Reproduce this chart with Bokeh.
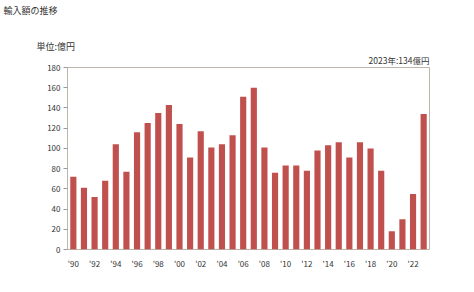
from bokeh.plotting import figure
from bokeh.models import FixedTicker, Range1d, Title
from bokeh.embed import file_html
from bokeh.resources import INLINE

years = list(range(1990, 2024))
values = [72, 61, 52, 68, 104, 77, 116, 125, 135, 143, 124, 91, 117, 101, 104, 113,
          151, 160, 101, 76, 83, 83, 78, 98, 103, 106, 91, 106, 100, 78, 18, 30, 55, 134]
y_ticks = list(range(0, 181, 20))
x_ticks = list(range(1990, 2023, 2))
x_labels = {y: "'" + str(y)[2:] for y in x_ticks}
title_text = "輸入額の推移"
unit_text = "単位:億円"
latest_text = "2023年:134億円"

FONT = "Noto Sans CJK JP"
TXT = "#333333"

p = figure(width=474, height=292, output_backend="svg", toolbar_location=None,
           x_range=Range1d(1989.45, 2023.55), y_range=Range1d(0, 180),
           min_border_left=67, min_border_right=45, min_border_top=67, min_border_bottom=43)
p.title_location = None
p.vbar(x=years, top=values, width=0.58, color="#c0504d", line_color=None)

p.xgrid.visible = False
p.ygrid.visible = False
p.outline_line_color = "#bdb6aa"
p.outline_line_width = 1

p.xaxis.ticker = FixedTicker(ticks=x_ticks)
p.xaxis.major_label_overrides = x_labels
p.xaxis.axis_line_color = None
p.xaxis.major_tick_line_color = None
p.xaxis.minor_tick_line_color = None
p.xaxis.major_label_text_font = FONT
p.xaxis.major_label_text_font_size = "8px"
p.xaxis.major_label_text_color = TXT
p.xaxis.major_label_standoff = 2

p.yaxis.ticker = FixedTicker(ticks=y_ticks)
p.yaxis.axis_line_color = None
p.yaxis.major_tick_line_color = "#999999"
p.yaxis.major_tick_out = 4
p.yaxis.major_tick_in = 0
p.yaxis.minor_tick_line_color = None
p.yaxis.major_label_text_font = FONT
p.yaxis.major_label_text_font_size = "8px"
p.yaxis.major_label_text_color = TXT
p.yaxis.major_label_standoff = 3

p.add_layout(Title(text=latest_text, align="right", offset=0, standoff=3,
                   text_font=FONT, text_font_size="8.5px", text_font_style="normal",
                   text_color=TXT), "above")
p.add_layout(Title(text=unit_text, align="left", offset=-31, standoff=-4,
                   text_font=FONT, text_font_size="9px", text_font_style="normal",
                   text_color=TXT), "above")
p.add_layout(Title(text=" ", align="left", offset=0, standoff=8,
                   text_font=FONT, text_font_size="9px", text_font_style="normal",
                   text_color=TXT), "above")
p.add_layout(Title(text=title_text, align="left", offset=-64, standoff=0,
                   text_font=FONT, text_font_size="9px", text_font_style="normal",
                   text_color=TXT), "above")

open("out.html", "w").write(file_html(p, INLINE))
